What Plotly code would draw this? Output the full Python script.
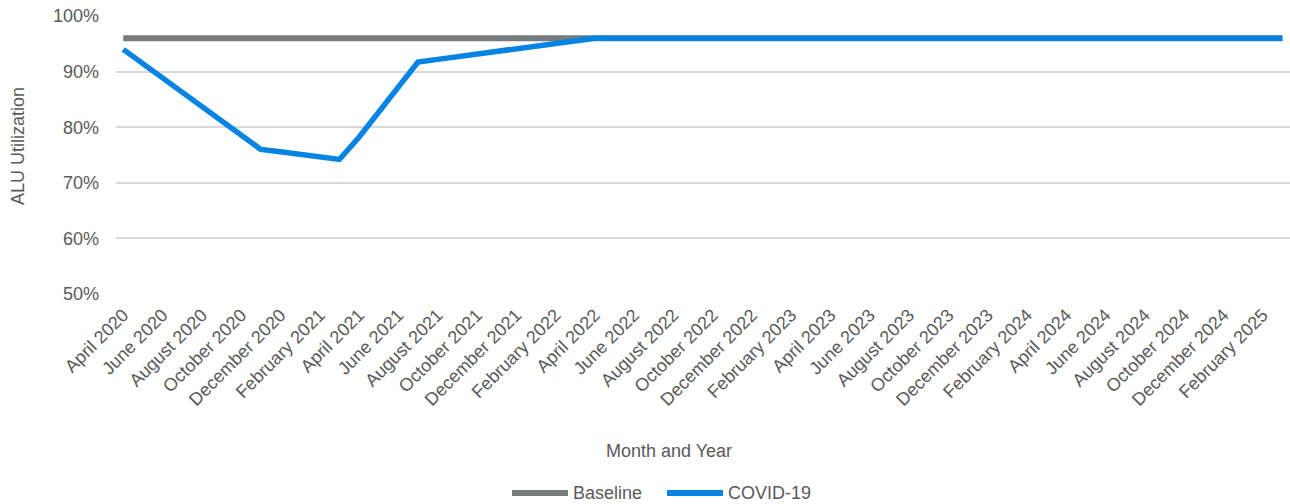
import pandas as pd
import plotly.graph_objects as go

# Monthly categories, April 2020 through March 2025
months = [d.strftime("%B %Y") for d in pd.date_range("2020-04-01", "2025-03-01", freq="MS")]

# ALU utilization (%) per month
baseline = [96.0] * 60
covid = [
    94.0, 91.4, 88.9, 86.3, 83.7, 81.1, 78.6, 76.0,   # Apr 2020 - Nov 2020
    75.6, 75.1, 74.7, 74.2,                           # Dec 2020 - Mar 2021
    78.2, 82.7, 87.2, 91.7,                           # Apr 2021 - Jul 2021
    92.2, 92.7, 93.1, 93.6, 94.1, 94.6, 95.1, 95.6,   # Aug 2021 - Mar 2022
] + [96.0] * 36                                        # Apr 2022 - Mar 2025

# Every second month is labelled on the axis
tick_labels = months[::2]

y_ticks = [50, 60, 70, 80, 90, 100]

GREY = "#767B7E"
BLUE = "#0584E3"
TEXT = "#595959"
GRID = "#D9D9D9"
FONT = "Liberation Sans, Arial, sans-serif"

# plot-area geometry in pixels, used to place the hand-drawn legend and titles
W, H = 1290, 504
L, R, T, B = 116, 0, 16, 210
PW, PH = W - L - R, H - T - B


def px(x):
    return (x - L) / PW


def py(y):
    return (H - B - y) / PH


fig = go.Figure()
fig.add_trace(go.Scatter(x=months, y=baseline, mode="lines", name="Baseline",
                         line=dict(color=GREY, width=6)))
fig.add_trace(go.Scatter(x=months, y=covid, mode="lines", name="COVID-19",
                         line=dict(color=BLUE, width=5.5)))

fig.update_layout(
    width=W, height=H,
    margin=dict(l=L, r=R, t=T, b=B),
    paper_bgcolor="white", plot_bgcolor="white",
    showlegend=False,
    font=dict(family=FONT, size=18, color=TEXT),
)

fig.update_xaxes(
    type="category",
    categoryorder="array", categoryarray=months,
    range=[-0.37, 59.39],
    tickmode="array", tickvals=tick_labels, ticktext=tick_labels,
    tickangle=-45, ticks="", showgrid=False, showline=False,
    ticklabelstandoff=6,
    tickfont=dict(size=18, color=TEXT),
)
fig.update_yaxes(
    range=[50, 100],
    tickmode="array", tickvals=y_ticks, ticktext=[f"{v}%" for v in y_ticks],
    showgrid=True, gridcolor=GRID, gridwidth=1.5,
    zeroline=False, showline=False, ticks="",
    ticklabelstandoff=16,
    tickfont=dict(size=18, color=TEXT),
)

annotations = [
    dict(text="Month and Year", x=px(669), y=py(451), xref="paper", yref="paper",
         showarrow=False, xanchor="center", yanchor="middle",
         font=dict(size=18, color=TEXT)),
    dict(text="ALU Utilization", x=px(18), y=py(146), xref="paper", yref="paper",
         showarrow=False, textangle=-90, xanchor="center", yanchor="middle",
         font=dict(size=18, color=TEXT)),
]

# legend: line swatch followed by its label
legend_items = [("Baseline", GREY, 512, 568), ("COVID-19", BLUE, 667, 723)]
shapes = []
for name, color, x0, x1 in legend_items:
    shapes.append(dict(type="line", xref="paper", yref="paper",
                       x0=px(x0), x1=px(x1), y0=py(493), y1=py(493),
                       line=dict(color=color, width=6)))
    annotations.append(dict(text=name, x=px(x1 + 3), y=py(493), xref="paper", yref="paper",
                            showarrow=False, xanchor="left", yanchor="middle",
                            font=dict(size=18, color=TEXT)))

fig.update_layout(annotations=annotations, shapes=shapes)

fig.write_html("out.html")
